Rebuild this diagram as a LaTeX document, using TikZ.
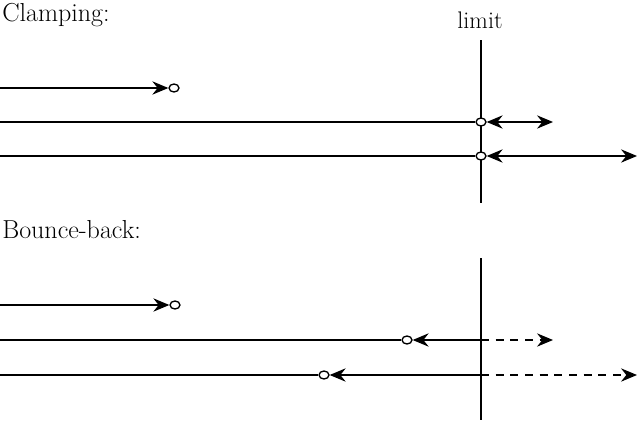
\documentclass[tikz,border=0pt]{standalone}
\usetikzlibrary{arrows.meta,shapes.geometric}
\begin{document}
\begin{tikzpicture}[x=0.75pt,y=-0.75pt,
  ln/.style={line width=0.9pt},
  lim/.style={line width=1.8pt},
  tp/.tip={Stealth[length=12pt,width=10pt,inset=4pt]},
  tip/.style={-tp},
  dot/.style={draw,line width=1pt,fill=white,ellipse,inner sep=0pt,minimum width=7.5pt,minimum height=6pt},
  lbl/.style={anchor=west,inner sep=0pt,font=\fontsize{19.5}{22}\selectfont}]
\useasboundingbox (0,0) rectangle (640,422);
\node[lbl] (t1) at (2,15) {Clamping:};
\node[lbl] (t2) at (2,230) {Bounce-back:};
\node[inner sep=0pt,font=\fontsize{18}{21}\selectfont] (lt) at (480,20) {limit};
% clamping
\coordinate (v1a) at (481,40); \coordinate (v1b) at (481,203);
\draw[lim] (v1a) -- (v1b);
\coordinate (a0) at (0,88); \node[dot] (a1) at (174,88) {};
\draw[ln,tip] (a0) -- (a1);
\coordinate (b0) at (0,122); \node[dot] (b1) at (481,122) {}; \coordinate (b2) at (553,122);
\draw[ln] (b0) -- (b1);
\draw[ln,tp-tp] (b1) -- (b2);
\coordinate (c0) at (0,156); \node[dot] (c1) at (481,156) {}; \coordinate (c2) at (637,156);
\draw[ln] (c0) -- (c1);
\draw[ln,tp-tp] (c1) -- (c2);
% bounce-back
\coordinate (v2a) at (481,258); \coordinate (v2b) at (481,420);
\draw[lim] (v2a) -- (v2b);
\coordinate (d0) at (0,305); \node[dot] (d1) at (175,305) {};
\draw[ln,tip] (d0) -- (d1);
\coordinate (e0) at (0,340); \node[dot] (e1) at (407,340) {}; \coordinate (e2) at (481,340); \coordinate (e3) at (553,340);
\draw[ln] (e0) -- (e1);
\draw[ln,tip] (e2) -- (e1);
\draw[ln,dashed,dash pattern=on 6pt off 5pt,tip] (e2) -- (e3);
\coordinate (f0) at (0,375); \node[dot] (f1) at (324,375) {}; \coordinate (f2) at (481,375); \coordinate (f3) at (637,375);
\draw[ln] (f0) -- (f1);
\draw[ln,tip] (f2) -- (f1);
\draw[ln,dashed,dash pattern=on 6pt off 5pt,tip] (f2) -- (f3);
\end{tikzpicture}
\end{document}
